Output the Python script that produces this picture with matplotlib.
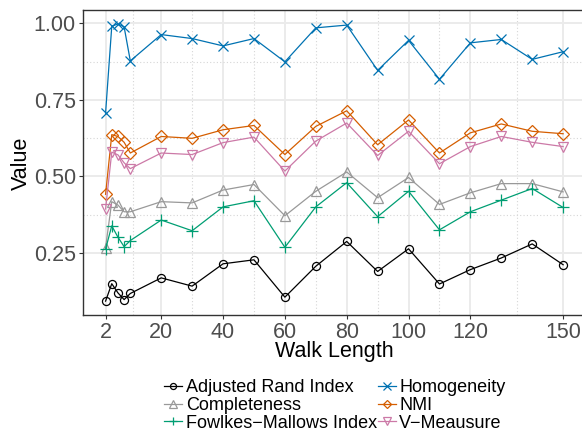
import matplotlib
matplotlib.use("Agg")
import matplotlib.pyplot as plt
from matplotlib.lines import Line2D

plt.rcParams['font.family'] = ['Liberation Sans', 'DejaVu Sans']

walk_length = [2, 4, 6, 8, 10, 20, 30, 40, 50, 60, 70, 80, 90, 100, 110, 120, 130, 140, 150]

ari = [0.092, 0.149, 0.119, 0.097, 0.117, 0.168, 0.141, 0.214, 0.227, 0.105, 0.206, 0.287, 0.189,
       0.263, 0.148, 0.195, 0.233, 0.279, 0.211]
completeness = [0.267, 0.417, 0.406, 0.384, 0.384, 0.417, 0.413, 0.455, 0.473, 0.371, 0.451, 0.514, 0.430,
                0.496, 0.408, 0.446, 0.476, 0.476, 0.449]
fmi = [0.262, 0.338, 0.301, 0.270, 0.290, 0.357, 0.322, 0.400, 0.420, 0.268, 0.400, 0.479, 0.368,
       0.451, 0.325, 0.384, 0.422, 0.460, 0.398]
homogeneity = [0.707, 0.990, 0.998, 0.988, 0.877, 0.963, 0.950, 0.926, 0.950, 0.874, 0.985, 0.994, 0.846,
               0.944, 0.817, 0.936, 0.947, 0.882, 0.907]
nmi = [0.441, 0.636, 0.630, 0.611, 0.576, 0.630, 0.624, 0.652, 0.666, 0.571, 0.663, 0.714, 0.603,
       0.684, 0.576, 0.642, 0.671, 0.647, 0.639]
v_measure = [0.393, 0.579, 0.570, 0.544, 0.525, 0.576, 0.571, 0.610, 0.628, 0.517, 0.615, 0.674, 0.568,
             0.647, 0.541, 0.597, 0.630, 0.611, 0.597]

series_names = ["Adjusted Rand Index", "Completeness", "Fowlkes\u2212Mallows Index",
                "Homogeneity", "NMI", "V\u2212Meausure"]
series_values = [ari, completeness, fmi, homogeneity, nmi, v_measure]
colors = ["#000000", "#999999", "#009E73", "#0072B2", "#D55E00", "#CC79A7"]
markers = ["o", "^", "+", "x", "D", "v"]
msizes = [5.8, 6.8, 8.0, 7.0, 5.8, 6.8]

x_ticks = [2, 20, 40, 60, 80, 100, 120, 150]
y_ticks = [0.25, 0.50, 0.75, 1.00]
y_tick_labels = ["0.25", "0.50", "0.75", "1.00"]

W, H = 582, 433
fig = plt.figure(figsize=(W / 100, H / 100), dpi=100)
left, right, top, bottom = 82.7, 586.0, 10.0, 315.0
ax = fig.add_axes([left / W, 1 - bottom / H, (right - left) / W, (bottom - top) / H])

for name, vals, c, m, ms in zip(series_names, series_values, colors, markers, msizes):
    ax.plot(walk_length, vals, color=c, lw=0.9, marker=m, markersize=ms,
            markerfacecolor='none', markeredgecolor=c, markeredgewidth=0.9, label=name, zorder=3)

xmin, xmax = min(walk_length), max(walk_length)
xr = xmax - xmin
ax.set_xlim(xmin - 0.05 * xr, xmax + 0.05 * xr)
allv = [v for s in series_values for v in s]
ymin, ymax = min(allv), max(allv)
yr = ymax - ymin
ax.set_ylim(ymin - 0.05 * yr, ymax + 0.05 * yr)

ax.set_xticks(x_ticks)
ax.set_xticklabels([str(t) for t in x_ticks])
ax.set_yticks(y_ticks)
ax.set_yticklabels(y_tick_labels)
minor_x = [(a + b) / 2 for a, b in zip(x_ticks[:-1], x_ticks[1:])]
minor_y = [(a + b) / 2 for a, b in zip(y_ticks[:-1], y_ticks[1:])]
ax.set_xticks(minor_x, minor=True)
ax.set_yticks(minor_y, minor=True)

ax.grid(which='major', color='#EBEBEB', lw=1.4, ls='-', zorder=0)
ax.grid(which='minor', color='#D6D6D6', lw=0.8, ls=(0, (1, 2)), zorder=0)
ax.set_axisbelow(True)
ax.tick_params(which='minor', length=0)
ax.tick_params(which='major', length=3, width=0.8, color='#333333', labelsize=15.5,
               labelcolor='#4D4D4D', pad=2)
for sp in ax.spines.values():
    sp.set_color('#333333')
    sp.set_linewidth(1.0)
ax.spines['right'].set_visible(False)

fig.text(334 / W, 1 - 357 / H, "Walk Length", ha='center', va='baseline', fontsize=15.5)
fig.text(21 / W, 1 - 163 / H, "Value", ha='center', va='center', rotation=90, fontsize=15.5)

handles = [Line2D([], [], color=c, lw=0.9, marker=m, markersize=ms * 0.75, markerfacecolor='none',
                  markeredgecolor=c, markeredgewidth=0.9)
           for c, m, ms in zip(colors, markers, msizes)]
fig.legend(handles, series_names, ncol=2, loc='upper left',
           bbox_to_anchor=(164 / W, 1 - 379 / H), frameon=False, fontsize=13,
           handlelength=1.0, handletextpad=0.2, columnspacing=0.05, labelspacing=0.05,
           borderpad=0, borderaxespad=0)

fig.savefig("out.png", dpi=100)
